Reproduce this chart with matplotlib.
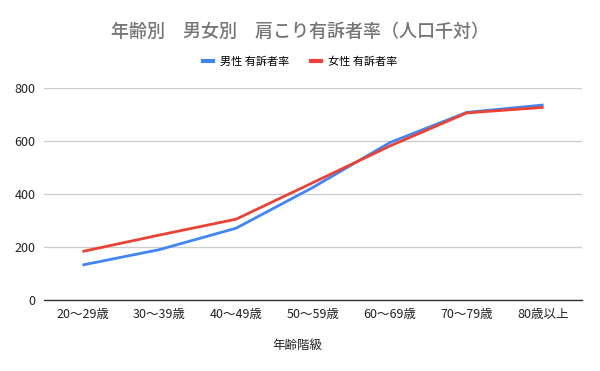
import matplotlib
matplotlib.use("Agg")
import matplotlib.pyplot as plt
from matplotlib.lines import Line2D

plt.rcParams['font.family'] = ['Noto Sans CJK JP', 'DejaVu Sans']

categories = ["20～29歳", "30～39歳", "40～49歳", "50～59歳", "60～69歳", "70～79歳", "80歳以上"]
male = [132, 190, 271, 425, 594, 708, 736]
female = [183, 245, 305, 443, 581, 706, 727]
yticks = [0, 200, 400, 600, 800]

fig = plt.figure(figsize=(6, 3.71), dpi=100)
ax = fig.add_axes([44/600, 1-300/371, 538/600, 212/371])

x = list(range(len(categories)))
ax.plot(x, male, color='#4285F4', lw=2, solid_capstyle='butt', label='男性 有訴者率')
ax.plot(x, female, color='#EA4335', lw=2, solid_capstyle='butt', label='女性 有訴者率')

ax.set_xlim(-0.5, len(categories)-0.5)
ax.set_ylim(0, 800)
ax.set_yticks(yticks)
ax.set_yticklabels([str(v) for v in yticks], fontsize=9, color='#222222')
ax.set_xticks(x)
ax.set_xticklabels(categories, fontsize=9, color='#222222')
ax.tick_params(length=0, pad=6)
ax.tick_params(axis='y', pad=6)
ax.grid(axis='y', color='#cccccc', lw=0.9)
ax.set_axisbelow(True)
for s in ['top', 'right', 'left']:
    ax.spines[s].set_visible(False)
ax.spines['bottom'].set_color('#333333')
ax.spines['bottom'].set_linewidth(1)
ax.spines['bottom'].set_zorder(3)

fig.text(0.5, 1-32/371, '年齢別　男女別　肩こり有訴者率（人口千対）', ha='center', va='center',
         fontsize=13, color='#757575', fontweight='medium')
fig.text(0.495, 1-345/371, '年齢階級', ha='center', va='center', fontsize=9, color='#222222')

handles = [Line2D([], [], color='#4285F4', lw=3), Line2D([], [], color='#EA4335', lw=3)]
fig.legend(handles, ['男性 有訴者率', '女性 有訴者率'], loc='center', bbox_to_anchor=(0.5, 1-62/371),
           ncol=2, frameon=False, fontsize=8, handlelength=0.9, columnspacing=2.0, handletextpad=0.6)

fig.savefig('out.png', dpi=100, facecolor='white')
